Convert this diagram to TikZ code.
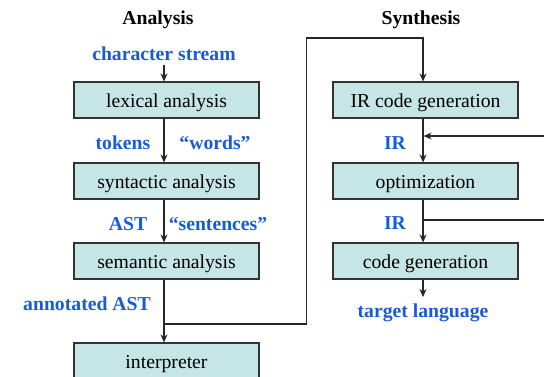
\documentclass[tikz,border=0pt]{standalone}
\usepackage{fontspec}
\setmainfont{Liberation Serif}
\usetikzlibrary{arrows.meta}
\definecolor{boxfill}{HTML}{C5E5E7}
\definecolor{boxdraw}{HTML}{333333}
\definecolor{lblblue}{HTML}{1A5AD8}
\tikzset{
  stage/.style={draw=boxdraw, fill=boxfill, line width=1.2pt, minimum width=185pt, minimum height=36pt, inner sep=0pt, text height=14pt, text depth=0pt, font=\fontsize{19.7}{22}\selectfont},
  lbl/.style={text=lblblue, font=\bfseries\fontsize{19.7}{22}\selectfont, inner sep=1pt},
  hdr/.style={font=\bfseries\fontsize{19.7}{22}\selectfont, inner sep=1pt},
  arr/.style={-{Stealth[length=8pt,width=7pt]}, line width=1.1pt, draw=black!85},
  ln/.style={line width=1.1pt, draw=black!85}
}
\begin{document}
\begin{tikzpicture}[x=1pt,y=-1pt]
\useasboundingbox (0,0) rectangle (544,376);
\begin{scope}
\clip (0,0) rectangle (544,376);
\node[hdr] (ha) at (158,19.5) {Analysis};
\node[hdr] (hs) at (421,19.5) {Synthesis};

\node[stage] (lex) at (166.5,100) {lexical analysis};
\node[stage] (syn) at (166.5,181) {syntactic analysis};
\node[stage] (sem) at (166.5,261) {semantic analysis};
\node[stage] (interp) at (166.5,361) {interpreter};

\node[stage] (irgen) at (425.5,100) {IR code generation};
\node[stage] (opt) at (425.5,181) {optimization};
\node[stage] (cg) at (425.5,261) {code generation};

\node[lbl] (cs) at (164,54) {character stream};
\node[lbl] (tok) at (123,143) {tokens};
\node[lbl] (wrd) at (215,143) {“words”};
\node[lbl] (ast) at (128,224) {AST};
\node[lbl] (sen) at (218,224) {“sentences”};
\node[lbl] (aast) at (87,304) {annotated AST};
\node[lbl] (ir1) at (395,143) {IR};
\node[lbl] (ir2) at (395,223) {IR};
\node[lbl] (tl) at (423,313) {target language};

\coordinate (csb) at (164,65);
\draw[arr] (csb) -- ([xshift=-2.5pt]lex.north);
\draw[arr] ([xshift=-2.5pt]lex.south) -- ([xshift=-2.5pt]syn.north);
\draw[arr] ([xshift=-2.5pt]syn.south) -- ([xshift=-2.5pt]sem.north);
\draw[arr] ([xshift=-2.5pt]sem.south) -- ([xshift=-2.5pt]interp.north);

\coordinate (br) at (164,324);
\coordinate (b1) at (306.5,38);
\draw[arr] (br) -| (b1) -| ([xshift=-2.5pt]irgen.north);

\draw[arr] ([xshift=-2.5pt]irgen.south) -- ([xshift=-2.5pt]opt.north);
\draw[arr] ([xshift=-2.5pt]opt.south) -- ([xshift=-2.5pt]cg.north);
\coordinate (tlt) at (423,297);
\draw[arr] ([xshift=-2.5pt]cg.south) -- (tlt);

\coordinate (fbs) at (545,136);
\coordinate (fbe) at (423.6,136);
\draw[arr] (fbs) -- (fbe);
\coordinate (fos) at (423,220);
\coordinate (foe) at (545,220);
\draw[ln] (fos) -- (foe);
\end{scope}
\end{tikzpicture}
\end{document}
